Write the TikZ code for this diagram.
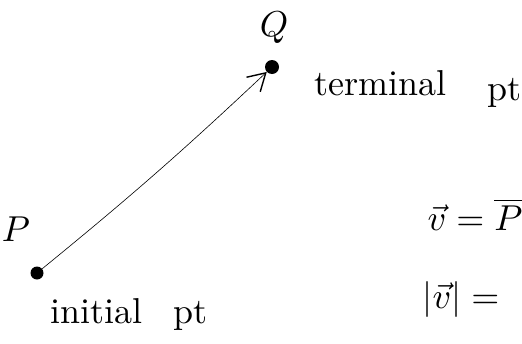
\documentclass[tikz,border=0pt]{standalone}
\usetikzlibrary{arrows.meta}
\begin{document}
\begin{tikzpicture}[x=1pt,y=-1pt,
  lbl/.style={inner sep=0pt,scale=3.6},
  pointdot/.style={circle,fill=black,inner sep=0pt,minimum size=13pt},
  vecline/.style={line width=0.6pt,-{Straight Barb[length=17pt,width=20pt,line width=1.4pt]}}]
\useasboundingbox (0,0) rectangle (522,343);
\node[pointdot] (P) at (37,273) {};
\node[pointdot,minimum size=14pt] (Q) at (272,67) {};
\node[lbl] (Plbl) at (16,229) {$P$};
\node[lbl] (Qlbl) at (274,28) {$Q$};
\node[lbl,anchor=base west] (term) at (314,95) {terminal};
\node[lbl,anchor=base west] (tpt) at (487,100) {pt};
\node[lbl,anchor=base west] (init) at (50,323) {initial};
\node[lbl,anchor=base west] (ipt) at (173,323) {pt};
\node[lbl,anchor=base west] (veq) at (427,230) {$\vec{v}=\overline{P}$};
\node[lbl,anchor=base west] (norm) at (422,308) {$|\vec{v}|=$};
\draw[vecline] (P) to[bend right=2] (Q);
\end{tikzpicture}
\end{document}
